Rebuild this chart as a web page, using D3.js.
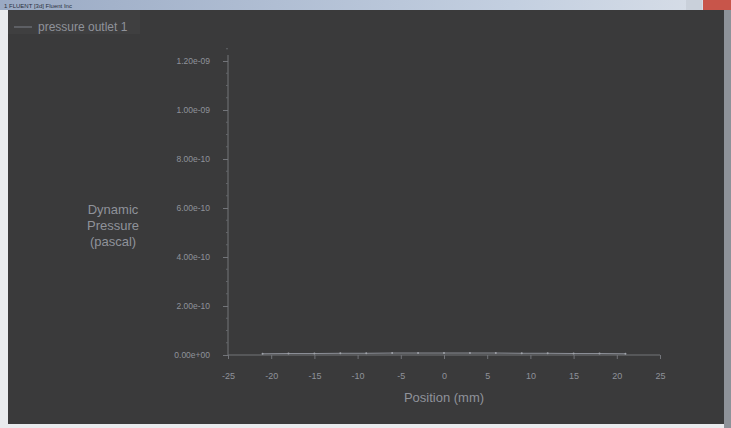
<!DOCTYPE html>
<html>
<head>
<meta charset="utf-8">
<script src="https://cdn.jsdelivr.net/npm/d3@7"></script>
<style>
  html, body { margin: 0; padding: 0; background: #e9ebee; }
  svg { display: block; }
</style>
</head>
<body>
<svg id="chart" width="731" height="428"></svg>
<script>
// XY plot of dynamic pressure along the outlet line
const seriesName = "pressure outlet 1";
const positions = [-21, -18, -15, -12, -9, -6, -3, 0, 3, 6, 9, 12, 15, 18, 21];
const pressures = [5e-12, 6e-12, 6e-12, 7e-12, 7e-12, 8e-12, 8e-12, 8e-12, 8e-12, 8e-12, 7e-12, 7e-12, 6e-12, 6e-12, 5e-12];
const xTicks = [-25, -20, -15, -10, -5, 0, 5, 10, 15, 20, 25];
const yTicks = [0, 2e-10, 4e-10, 6e-10, 8e-10, 1e-9, 1.2e-9];
const xTitle = "Position (mm)";
const yTitle = ["Dynamic", "Pressure", "(pascal)"];
const windowTitle = "1 FLUENT [3d] Fluent Inc";

const svg = d3.select("#chart");
const W = 731, H = 428;
const fg = "#8f929a";
const font = "Liberation Sans, Arial, sans-serif";

// window frame
const frame = svg.append("g");
const tg = svg.append("defs").append("linearGradient").attr("id", "titlebar");
tg.append("stop").attr("offset", "0%").attr("stop-color", "#9aaac4");
tg.append("stop").attr("offset", "70%").attr("stop-color", "#c3cfe0");
tg.append("stop").attr("offset", "100%").attr("stop-color", "#d9dfe8");
frame.append("rect").attr("x", 0).attr("y", 0).attr("width", W).attr("height", 10).attr("fill", "url(#titlebar)");
frame.append("rect").attr("x", 703).attr("y", 0).attr("width", 28).attr("height", 10).attr("fill", "#c8554a");
frame.append("rect").attr("x", 686).attr("y", 0).attr("width", 16).attr("height", 10).attr("fill", "#c9d0da");
frame.append("text").attr("x", 4).attr("y", 8).attr("font-family", font).attr("font-size", 6)
  .attr("fill", "#2b3140").text(windowTitle);
frame.append("rect").attr("x", 8).attr("y", 10).attr("width", 716).attr("height", 414).attr("fill", "#3a3a3b");
frame.append("rect").attr("x", 8).attr("y", 10).attr("width", 132).attr("height", 24).attr("fill", "#3f3f40");
frame.append("rect").attr("x", 724).attr("y", 10).attr("width", 7).attr("height", 418).attr("fill", "#8e9299");

// plot geometry
const x = d3.scaleLinear().domain([-25, 25]).range([228, 660]);
const y = d3.scaleLinear().domain([0, 1.2e-9]).range([355, 61]);

const g = svg.append("g");

// y axis
const yAxis = d3.axisLeft(y).tickValues(yTicks).tickSize(5).tickPadding(13)
  .tickFormat(d => d3.format(".2e")(d).replace(/e([+-])(\d)$/, "e$10$2"));
const ya = g.append("g").attr("transform", "translate(228,0)").call(yAxis);
ya.select(".domain").attr("stroke", "#727479").attr("d", "M0,55V355");
ya.selectAll("line").attr("stroke", "#727479");
ya.selectAll("text").attr("fill", fg).attr("font-family", font).attr("font-size", 8.5);
// minor ticks
const yMinor = d3.range(0, 1.3e-9, 5e-11).filter(v => !yTicks.some(t => Math.abs(t - v) < 1e-12));
g.selectAll(".ymin").data(yMinor).join("line")
  .attr("x1", 226).attr("x2", 228).attr("y1", d => y(d)).attr("y2", d => y(d)).attr("stroke", "#626468");

// x axis
const xAxis = d3.axisBottom(x).tickValues(xTicks).tickSize(4).tickPadding(14).tickFormat(d => String(d));
const xa = g.append("g").attr("transform", "translate(0,355)").call(xAxis);
xa.select(".domain").attr("stroke", "#727479").attr("d", "M228,0H660");
xa.selectAll("line").attr("stroke", "#727479");
xa.selectAll("text").attr("fill", fg).attr("font-family", font).attr("font-size", 9);

// axis titles
g.append("text").attr("x", 444).attr("y", 402).attr("text-anchor", "middle")
  .attr("font-family", font).attr("font-size", 13).attr("fill", fg).text(xTitle);
g.append("text").attr("text-anchor", "middle").attr("font-family", font).attr("font-size", 13)
  .attr("fill", fg).selectAll("tspan").data(yTitle).join("tspan")
  .attr("x", 113).attr("y", (d, i) => 214 + i * 16).text(d => d);

// series
const line = d3.line().x((d, i) => x(positions[i])).y(d => y(d));
g.append("path").datum(pressures).attr("d", line).attr("fill", "none")
  .attr("stroke", "#8d9098").attr("stroke-width", 1);
g.selectAll(".pt").data(pressures).join("circle")
  .attr("cx", (d, i) => x(positions[i])).attr("cy", d => y(d)).attr("r", 1).attr("fill", "#a0a3aa");

// legend
g.append("line").attr("x1", 14).attr("x2", 32).attr("y1", 27).attr("y2", 27).attr("stroke", "#7d8088");
g.append("text").attr("x", 38).attr("y", 31).attr("font-family", font).attr("font-size", 12)
  .attr("fill", fg).text(seriesName);
</script>
</body>
</html>
